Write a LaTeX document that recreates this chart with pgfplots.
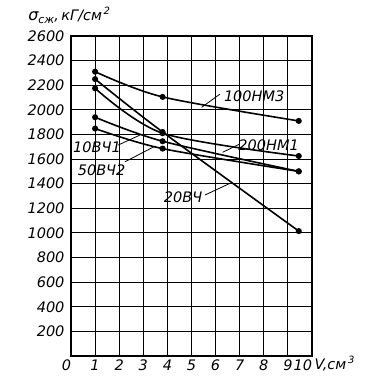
\documentclass[border=0pt]{standalone}
\usepackage{fontspec}
\setmainfont{DejaVu Sans}
\usepackage{pgfplots}
\pgfplotsset{compat=1.18}
\pgfplotsset{myline/.style={black, line width=1.6pt, mark=*, mark size=2.2pt, mark options={fill=black, draw=black, solid}, smooth}}
\begin{document}
\begin{tikzpicture}
\path[use as bounding box] (-71pt,-26pt) rectangle (295pt,356pt);
\begin{axis}[
 at={(0pt,0pt)}, anchor=south west,
 scale only axis, width=241pt, height=320pt,
 xmin=0, xmax=10, ymin=0, ymax=2600,
 xtick={0,1,...,10},
 xticklabels={\llap{0},1,2,3,4,5,6,7,8,9,\llap{10}},
 ytick={200,400,...,2600},
 grid=major, major grid style={black, line width=1pt},
 axis line style={line width=1.4pt},
 tick style={draw=none},
 /pgf/number format/assume math mode=true,
 /pgf/number format/1000 sep={},
 ticklabel style={font=\itshape\fontsize{14.5}{14.5}\selectfont},
 yticklabel style={xshift=-3pt},
 clip=false,
]
% 100HM3
\addplot[myline] table {
x y
1.0 2310
3.8 2105
9.45 1910
};
% 20BCh
\addplot[myline] table {
x y
1.0 2250
3.8 1820
9.45 1015
};
% 200HM1
\addplot[myline] table {
x y
1.0 2175
3.8 1810
9.45 1625
};
% 10BCh1
\addplot[myline] table {
x y
1.0 1940
3.8 1745
9.45 1500
};
% 50BCh2
\addplot[myline] table {
x y
1.0 1848
3.8 1685
9.45 1500
};
\begin{scope}[every node/.style={font=\itshape\fontsize{14.5}{14.5}\selectfont, inner sep=1pt}]
\node at (axis cs:7.6,2112) {100НМ3};
\draw[line width=0.8pt] (axis cs:6.18,2128) -- (axis cs:5.42,2020);
\node at (axis cs:8.2,1714) {200НМ1};
\draw[line width=0.8pt] (axis cs:6.98,1720) -- (axis cs:6.29,1655);
\node at (axis cs:1.08,1700) {10ВЧ1};
\draw[line width=0.8pt] (axis cs:1.96,1714) -- (axis cs:2.86,1795);
\node at (axis cs:1.27,1511) {50ВЧ2};
\draw[line width=0.8pt] (axis cs:2.24,1578) -- (axis cs:3.44,1700);
\node at (axis cs:4.65,1294) {20ВЧ};
\draw[line width=0.8pt] (axis cs:5.56,1308) -- (axis cs:6.6,1403);
\node[anchor=base west, inner sep=0pt] at (rel axis cs:-0.178,1.047)
 {{\fontsize{16}{16}\selectfont σ}\raisebox{-3pt}{\fontsize{11}{11}\selectfont сж},\,кГ/см\raisebox{6pt}{\fontsize{10}{10}\selectfont\,2}};
\node[anchor=base west, inner sep=0pt] at (rel axis cs:1.01,-0.042)
 {V,см\raisebox{6pt}{\fontsize{10}{10}\selectfont\,3}};
\end{scope}
\end{axis}
\end{tikzpicture}
\end{document}
